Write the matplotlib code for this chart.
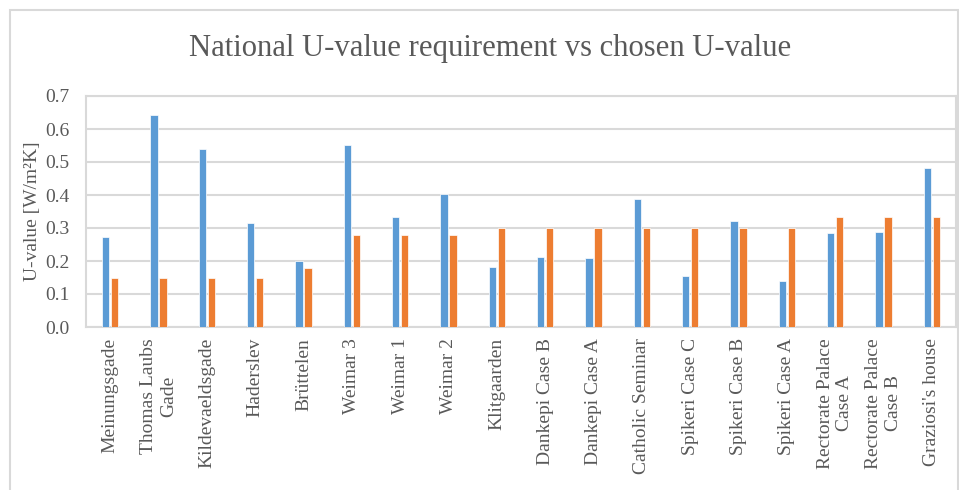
import numpy as np
import matplotlib
matplotlib.use("Agg")
import matplotlib.pyplot as plt
from matplotlib.patches import Rectangle

# data
buildings = ["Meinungsgade", "Thomas Laubs\nGade", "Kildevaeldsgade", "Haderslev",
             "Brüttelen", "Weimar 3", "Weimar 1", "Weimar 2", "Klitgaarden",
             "Dankepi Case B", "Dankepi Case A", "Catholic Seminar", "Spikeri Case C",
             "Spikeri Case B", "Spikeri Case A", "Rectorate Palace\nCase A",
             "Rectorate Palace\nCase B", "Graziosi's house"]
national = [0.274, 0.642, 0.538, 0.315, 0.200, 0.552, 0.332, 0.403, 0.183,
            0.212, 0.209, 0.387, 0.154, 0.321, 0.138, 0.284, 0.289, 0.481]
chosen = [0.15, 0.15, 0.15, 0.15, 0.18, 0.28, 0.28, 0.28, 0.30,
          0.30, 0.30, 0.30, 0.30, 0.30, 0.30, 0.332, 0.332, 0.332]
yticks = [0.0, 0.1, 0.2, 0.3, 0.4, 0.5, 0.6, 0.7]

txt = "#595959"
grid_col = "#d9d9d9"
plt.rcParams['font.family'] = ['Liberation Serif', 'DejaVu Serif']

W, H = 959, 490
fig = plt.figure(figsize=(W / 100, H / 100), dpi=100)

# outer chart border
fig.patches.append(Rectangle((10 / W, -0.05), 948 / W, 1 - 10 / H + 0.05,
                             transform=fig.transFigure, fill=False,
                             edgecolor=grid_col, linewidth=1.5))

ax = fig.add_axes([86 / W, (H - 327) / H, (956 - 86) / W, (327 - 96) / H])

x = np.arange(len(buildings))
bw = 0.15
ax.bar(x - 0.093, national, bw, color="#5B9BD5", edgecolor="white", linewidth=0.5, zorder=3)
ax.bar(x + 0.093, chosen, bw, color="#ED7D31", edgecolor="white", linewidth=0.5, zorder=3)

ax.set_xlim(-0.5, len(buildings) - 0.5)
ax.set_ylim(0, 0.7)
ax.set_yticks(yticks)
ax.set_yticklabels(["%.1f" % v for v in yticks])
ax.set_xticks(x)
ax.set_xticklabels(buildings, rotation=90, ha="center", va="top", multialignment="center")
ax.tick_params(axis="both", length=0, colors=txt, labelsize=14)
ax.tick_params(axis="x", pad=8)
ax.tick_params(axis="y", pad=12)
ax.yaxis.grid(True, color=grid_col, linewidth=1.5, zorder=0)
ax.set_axisbelow(True)
for s in ax.spines.values():
    s.set_color(grid_col)
    s.set_linewidth(1.5)

ax.set_ylabel("U-value [W/m²K]", color=txt, fontsize=14, labelpad=3)
fig.text(490.5 / W, 1 - 56 / H, "National U-value requirement vs chosen U-value",
         ha="center", va="baseline", color=txt, fontsize=22.1)

fig.savefig("out.png", dpi=100)
